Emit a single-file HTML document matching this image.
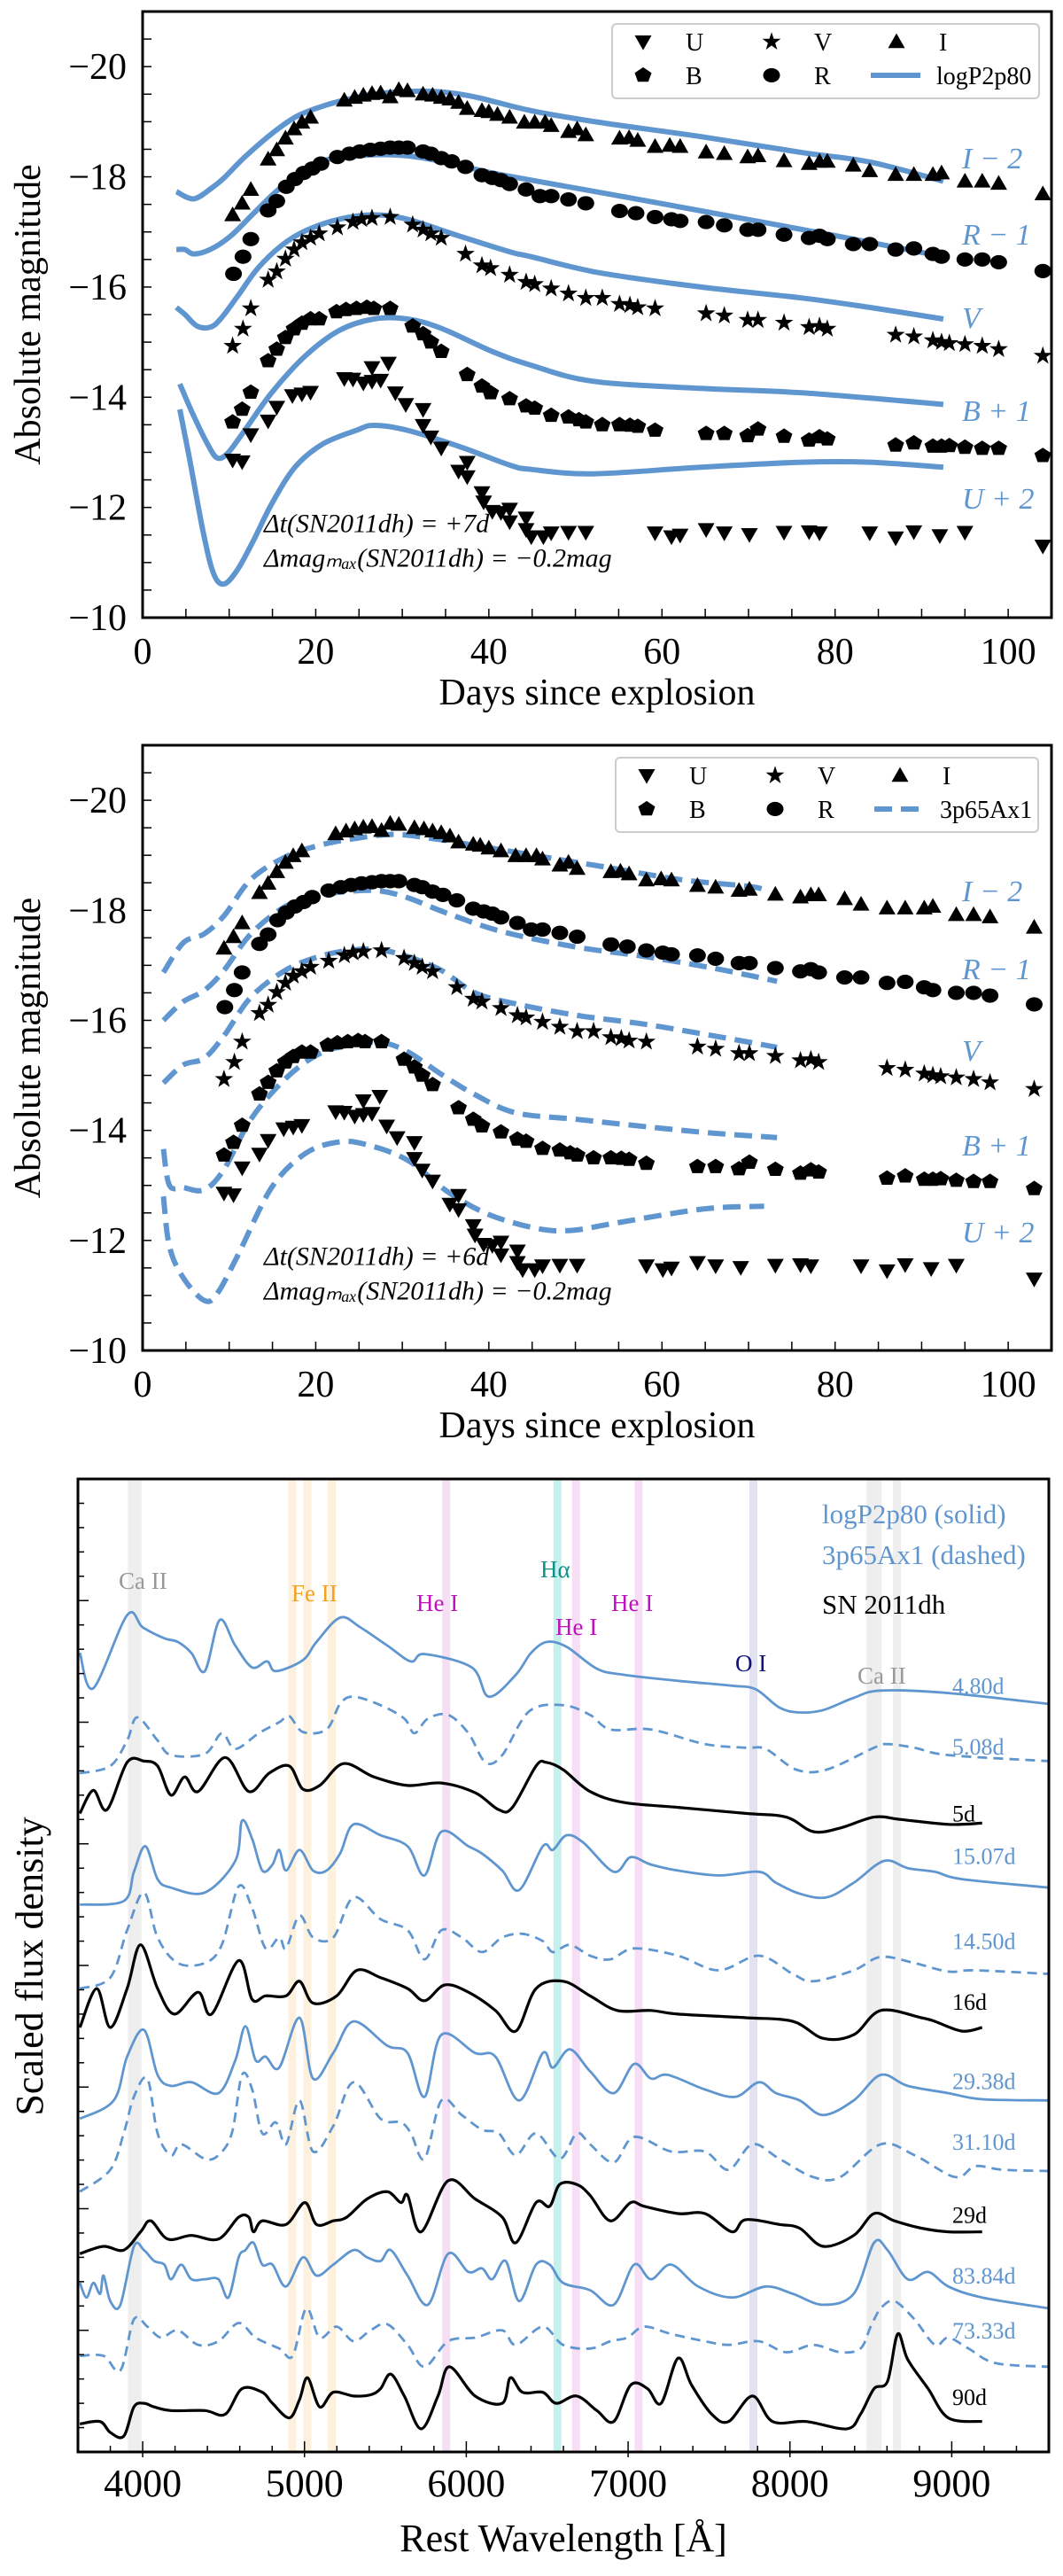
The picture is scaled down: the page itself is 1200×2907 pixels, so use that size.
<!DOCTYPE html>
<html><head><meta charset="utf-8"><style>
html,body{margin:0;padding:0;background:#fff;}
svg{display:block;font-family:"Liberation Serif",serif;}
</style></head><body>
<svg id="fig" width="1200" height="2907" viewBox="0 0 1200 2907" xmlns="http://www.w3.org/2000/svg"></svg>
<script>
// ---------- Light curve data (days since explosion, panel 1 reference; panel 2 shifted -1 d) ----------
const obsI = [[10.4,-17.31],[11.5,-17.52],[12.5,-17.77],[14.5,-18.32],[15.5,-18.49],[16.5,-18.7],[17.5,-18.87],[18.4,-18.99],[19.4,-19.08],[23.3,-19.39],[24.5,-19.44],[25.5,-19.48],[26.5,-19.51],[27.5,-19.52],[28.6,-19.45],[29.6,-19.58],[30.6,-19.56],[32.4,-19.5],[33.5,-19.48],[34.5,-19.44],[35.5,-19.41],[36.5,-19.35],[37.5,-19.24],[39.2,-19.2],[40,-19.18],[41,-19.13],[42.4,-19.08],[44.1,-18.99],[45.3,-18.99],[46.5,-18.99],[47.2,-18.93],[49.2,-18.82],[50.2,-18.87],[51.2,-18.76],[55.1,-18.7],[56.2,-18.71],[57.2,-18.66],[59.2,-18.55],[60.9,-18.57],[62.1,-18.55],[65.1,-18.45],[67.2,-18.42],[69.9,-18.36],[71.1,-18.38],[74.1,-18.29],[77,-18.24],[78.2,-18.28],[79.1,-18.28],[82.1,-18.21],[84,-18.11],[87,-18.04],[89.1,-18.04],[91.3,-18.04],[92.3,-18.07],[95,-17.92],[97,-17.92],[98.9,-17.88],[104,-17.69]];
const obsR = [[10.5,-16.24],[11.6,-16.55],[12.5,-16.87],[14.5,-17.39],[15.5,-17.56],[16.6,-17.82],[17.6,-17.96],[18.6,-18.07],[19.6,-18.15],[20.6,-18.24],[22.5,-18.36],[23.9,-18.42],[25.1,-18.46],[26.3,-18.49],[27.5,-18.51],[28.6,-18.53],[29.6,-18.53],[30.6,-18.53],[32.4,-18.46],[33.3,-18.42],[34.5,-18.34],[35.7,-18.28],[37.3,-18.18],[39.2,-18.03],[40.4,-17.98],[41.4,-17.94],[42.4,-17.87],[44.3,-17.77],[45.9,-17.65],[47.2,-17.65],[49.2,-17.59],[51.2,-17.52],[55.1,-17.38],[57,-17.34],[59.2,-17.27],[61.1,-17.23],[62.1,-17.2],[65.1,-17.18],[67.2,-17.12],[69.9,-17.04],[71.1,-17.04],[74.1,-16.95],[77,-16.89],[78.2,-16.93],[79.1,-16.87],[82.1,-16.78],[84,-16.78],[87,-16.68],[89.1,-16.7],[91.3,-16.6],[92.3,-16.55],[95,-16.5],[97,-16.5],[98.9,-16.45],[104,-16.29]];
const obsV = [[10.4,-14.93],[11.6,-15.24],[12.5,-15.61],[14.5,-16.13],[15.5,-16.28],[16.5,-16.51],[17.5,-16.68],[18.4,-16.81],[19.4,-16.89],[20.4,-16.97],[22.5,-17.08],[24.3,-17.18],[25.3,-17.23],[26.5,-17.25],[28.6,-17.27],[31.2,-17.13],[32.4,-17.04],[33.3,-16.97],[34.5,-16.89],[37.3,-16.6],[39.2,-16.39],[40.2,-16.34],[42.4,-16.22],[44.3,-16.09],[45.3,-16.05],[47.2,-15.97],[49.2,-15.88],[51.2,-15.8],[53.1,-15.8],[55.1,-15.69],[56.3,-15.67],[57.2,-15.63],[59.2,-15.61],[65.1,-15.52],[67.2,-15.48],[69.9,-15.4],[71.1,-15.4],[74.1,-15.35],[77,-15.27],[78.2,-15.29],[79.1,-15.24],[87,-15.13],[89.1,-15.1],[91.3,-15.03],[92.3,-15.0],[93.2,-14.98],[95,-14.96],[97,-14.93],[98.9,-14.87],[104,-14.75]];
const obsB = [[10.4,-13.55],[11.5,-13.78],[12.5,-14.09],[14.5,-14.66],[15.5,-14.87],[16.5,-15.08],[17.5,-15.24],[18.4,-15.34],[19.4,-15.42],[20.4,-15.42],[22.4,-15.55],[23.5,-15.59],[24.7,-15.61],[25.9,-15.63],[26.7,-15.61],[28.6,-15.61],[31.2,-15.29],[32.4,-15.15],[33.3,-15.0],[34.5,-14.83],[37.5,-14.41],[39.2,-14.2],[40.2,-14.08],[42.4,-13.97],[44.3,-13.84],[45.3,-13.8],[47.2,-13.67],[49.2,-13.64],[50.4,-13.59],[51.2,-13.55],[53.1,-13.5],[55.1,-13.5],[56.3,-13.49],[57.2,-13.47],[59.2,-13.4],[65.1,-13.34],[67.2,-13.34],[69.9,-13.3],[71.1,-13.42],[74.1,-13.29],[77,-13.22],[78.2,-13.28],[79.1,-13.24],[87,-13.13],[89.1,-13.17],[91.3,-13.11],[92.3,-13.11],[93.2,-13.12],[95,-13.09],[97,-13.07],[98.9,-13.07],[104,-12.94]];
const obsU = [[10.4,-12.86],[11.5,-12.83],[12.5,-13.32],[14.5,-13.57],[15.5,-13.82],[17.3,-14.03],[18.4,-14.06],[19.4,-14.09],[23.3,-14.34],[24.3,-14.33],[25.5,-14.26],[26.5,-14.29],[26.5,-14.54],[27.5,-14.31],[28.4,-14.62],[29.2,-14.08],[30.4,-13.87],[32.4,-13.78],[32.4,-13.49],[33.3,-13.28],[34.5,-13.08],[36.5,-12.66],[37.5,-12.82],[37.5,-12.56],[39.2,-12.27],[39.4,-12.1],[40.4,-11.93],[41.4,-11.91],[42.4,-11.97],[42.4,-11.74],[44.3,-11.81],[44.3,-11.6],[44.9,-11.47],[46.3,-11.47],[47.2,-11.54],[49.2,-11.55],[51.2,-11.55],[59.2,-11.54],[61.1,-11.47],[62.1,-11.5],[65.1,-11.6],[67.2,-11.54],[70.1,-11.51],[74.1,-11.55],[77,-11.56],[78.2,-11.54],[84,-11.54],[87,-11.45],[89.1,-11.56],[92.1,-11.49],[95,-11.55],[104,-11.3]];

// ---------- Model light curves ----------
const modelA_I = [[3.9,-17.73],[5.9,-17.6],[8,-17.8],[9.4,-17.98],[11.8,-18.36],[14.9,-18.78],[17.6,-19.08],[20,-19.24],[22.7,-19.37],[26.7,-19.5],[30.6,-19.55],[34.5,-19.54],[38.4,-19.45],[44.9,-19.2],[52.7,-18.99],[64.5,-18.73],[76.2,-18.44],[84,-18.27],[92.5,-17.92]];
const modelA_R = [[3.9,-16.68],[4.9,-16.68],[5.9,-16.6],[7.8,-16.68],[10.2,-16.93],[12.9,-17.35],[15.7,-17.77],[18.8,-18.11],[21.6,-18.32],[26.7,-18.4],[30.6,-18.38],[34.5,-18.28],[40.4,-18.07],[44.9,-17.94],[56.6,-17.61],[68.4,-17.27],[80.1,-16.93],[92.5,-16.55]];
const modelA_V = [[3.9,-15.63],[4.9,-15.5],[6.3,-15.29],[7.8,-15.27],[9,-15.42],[11,-15.84],[13.3,-16.34],[16.1,-16.76],[18.8,-17.02],[22.7,-17.23],[26.7,-17.31],[30.6,-17.23],[36.5,-16.93],[42.4,-16.64],[44.9,-16.55],[52.7,-16.26],[64.5,-16.0],[76.2,-15.8],[84,-15.63],[92.5,-15.42]];
const modelA_B = [[4.3,-14.24],[5.9,-13.66],[7.5,-13.15],[8.6,-12.9],[9.8,-12.98],[11.8,-13.4],[14.9,-14.08],[18.8,-14.75],[22.7,-15.21],[26.7,-15.42],[30.6,-15.42],[34.5,-15.25],[40.4,-14.83],[44.9,-14.58],[52,-14.29],[64.5,-14.16],[76.2,-14.08],[92.5,-13.87]];
const modelA_U = [[4.3,-13.78],[5.5,-12.82],[7,-11.55],[8.2,-10.8],[9.4,-10.61],[11,-10.88],[12.9,-11.43],[14.9,-12.06],[17.6,-12.73],[20.8,-13.15],[24.7,-13.4],[26.7,-13.49],[30.6,-13.4],[36.5,-13.11],[42.4,-12.77],[44.9,-12.69],[52,-12.61],[64.5,-12.73],[76.2,-12.82],[84,-12.82],[92.5,-12.73]];
const modelB_I = [[2.4,-16.87],[4.7,-17.41],[7.1,-17.57],[9.4,-17.9],[12.5,-18.56],[16.5,-18.97],[20.4,-19.18],[24.3,-19.3],[29,-19.38],[33.7,-19.3],[38.4,-19.18],[46.3,-18.97],[54.1,-18.77],[62,-18.56],[69.8,-18.44],[71.8,-18.38]];
const modelB_R = [[2.4,-16.0],[4.7,-16.34],[7.1,-16.54],[9.4,-16.91],[12.5,-17.57],[16.5,-18.07],[20.4,-18.27],[24.3,-18.35],[27.5,-18.35],[30.6,-18.23],[35.3,-17.94],[41.6,-17.61],[50.2,-17.33],[58,-17.16],[65.9,-16.95],[73.3,-16.71]];
const modelB_V = [[2.4,-14.86],[4.7,-15.19],[7.1,-15.31],[9.4,-15.72],[12.5,-16.42],[16.5,-16.91],[20.4,-17.16],[24.3,-17.28],[27.5,-17.28],[30.6,-17.16],[34.5,-16.91],[38.4,-16.5],[43.1,-16.3],[50.2,-16.09],[58,-15.93],[65.9,-15.72],[73.3,-15.51]];
const modelB_B = [[2.4,-13.66],[3.1,-13.0],[4.7,-12.96],[7.1,-12.92],[9.4,-13.29],[12.5,-14.2],[16.5,-14.94],[20.4,-15.39],[24.3,-15.56],[27.5,-15.6],[30.6,-15.43],[34.5,-15.02],[38.4,-14.65],[43.1,-14.32],[50.2,-14.2],[58,-14.07],[65.9,-13.95],[73.3,-13.87]];
const modelB_U = [[2.4,-12.8],[3.1,-11.89],[4.7,-11.32],[7.1,-10.91],[8.6,-11.03],[11,-11.73],[14.9,-12.96],[18.8,-13.58],[22.7,-13.79],[25.9,-13.74],[30.6,-13.46],[35.3,-12.88],[40,-12.47],[45.5,-12.22],[49.4,-12.18],[54.1,-12.3],[60.4,-12.47],[65.9,-12.59],[71.8,-12.62]];
const dayTicks = [0,20,40,60,80,100];
const magTicks = [-20,-18,-16,-14,-12,-10];

// ---------- Spectra [wavelength, scaled flux] ----------
const spec_4_80d = [[3612,6.57],[3695,6.28],[3904,6.88],[4000,6.78],[4134,6.69],[4217,6.66],[4301,6.57],[4384,6.42],[4476,6.84],[4572,6.63],[4677,6.45],[4769,6.5],[4823,6.42],[4990,6.51],[5074,6.66],[5220,6.86],[5345,6.78],[5512,6.63],[5658,6.5],[5742,6.56],[6034,6.45],[6139,6.21],[6306,6.39],[6400,6.57],[6498,6.66],[6619,6.62],[6807,6.44],[6974,6.39],[7308,6.34],[7642,6.3],[7789,6.27],[7935,6.12],[8060,6.08],[8206,6.1],[8394,6.2],[8561,6.26],[8979,6.24],[9601,6.15]];
const spec_5_08d = [[3612,5.58],[3800,5.64],[3904,5.85],[3967,6.04],[4092,5.85],[4175,5.73],[4384,5.74],[4489,5.91],[4572,5.78],[4718,5.91],[4844,6.0],[4906,6.05],[4990,5.92],[5136,5.94],[5220,6.15],[5303,6.21],[5470,6.14],[5617,6.03],[5679,5.91],[5763,6.03],[5888,6.06],[6013,5.91],[6118,5.67],[6222,5.73],[6389,6.09],[6598,6.14],[6765,6.06],[6890,5.94],[7141,5.94],[7475,5.82],[7726,5.79],[7851,5.78],[8039,5.61],[8227,5.61],[8520,5.79],[8603,5.82],[8770,5.79],[8979,5.73],[9601,5.68]];
const spec_5d = [[3612,5.25],[3695,5.44],[3779,5.28],[3904,5.67],[4008,5.68],[4092,5.64],[4175,5.4],[4259,5.55],[4343,5.43],[4510,5.71],[4656,5.43],[4781,5.58],[4906,5.64],[4990,5.45],[5094,5.48],[5241,5.66],[5429,5.55],[5637,5.48],[5846,5.5],[6055,5.42],[6201,5.28],[6285,5.3],[6431,5.64],[6494,5.67],[6598,5.61],[6765,5.43],[6974,5.34],[7308,5.3],[7726,5.25],[7977,5.22],[8144,5.1],[8311,5.13],[8520,5.22],[8687,5.2],[8979,5.16],[9188,5.17]];
const spec_15_07d = [[3612,4.5],[3883,4.53],[3946,4.77],[4017,4.98],[4092,4.71],[4175,4.64],[4384,4.6],[4572,4.86],[4614,5.19],[4677,5.04],[4739,4.78],[4802,4.83],[4844,4.95],[4886,4.78],[4969,4.95],[5053,4.78],[5136,4.78],[5220,4.92],[5303,5.16],[5470,5.07],[5637,4.98],[5742,4.74],[5846,5.1],[6013,4.98],[6097,4.92],[6222,4.78],[6327,4.62],[6473,4.98],[6535,4.95],[6619,5.07],[6723,5.01],[6911,4.77],[7016,4.89],[7141,4.83],[7308,4.78],[7559,4.74],[7809,4.77],[7914,4.68],[8060,4.59],[8227,4.56],[8394,4.68],[8582,4.86],[8728,4.8],[8896,4.77],[9063,4.71],[9601,4.64]];
const spec_14_50d = [[3612,3.81],[3800,3.9],[3904,4.29],[4008,4.6],[4092,4.23],[4217,4.02],[4384,4.02],[4489,4.17],[4593,4.65],[4677,4.47],[4760,4.14],[4844,4.23],[4886,4.14],[4969,4.41],[5053,4.23],[5178,4.23],[5303,4.56],[5470,4.38],[5637,4.29],[5742,4.05],[5846,4.29],[5972,4.23],[6097,4.11],[6222,4.23],[6347,4.26],[6473,4.2],[6535,4.11],[6640,4.17],[6765,4.08],[6890,4.05],[7037,4.14],[7308,4.08],[7559,3.96],[7809,4.08],[8018,3.93],[8144,3.87],[8394,3.96],[8561,4.07],[8770,4.02],[8979,3.95],[9146,3.96],[9601,3.93]];
const spec_16d = [[3612,3.49],[3716,3.81],[3800,3.49],[3904,3.81],[3987,4.17],[4092,3.81],[4196,3.6],[4343,3.78],[4426,3.6],[4593,4.04],[4677,3.72],[4760,3.75],[4886,3.75],[4969,3.87],[5053,3.69],[5199,3.75],[5324,3.96],[5470,3.9],[5637,3.81],[5742,3.71],[5867,3.84],[6013,3.78],[6180,3.63],[6306,3.46],[6431,3.81],[6598,3.87],[6765,3.75],[6932,3.63],[7141,3.63],[7308,3.6],[7726,3.57],[8018,3.54],[8206,3.4],[8394,3.43],[8561,3.63],[8812,3.57],[8896,3.54],[9063,3.46],[9188,3.49]];
const spec_29_38d = [[3612,2.74],[3821,2.89],[3904,3.25],[4008,3.47],[4092,3.1],[4175,3.01],[4301,3.04],[4468,2.95],[4572,3.22],[4635,3.5],[4698,3.22],[4760,3.25],[4844,3.16],[4969,3.57],[5053,3.07],[5178,3.28],[5303,3.54],[5512,3.34],[5637,3.28],[5742,2.92],[5846,3.43],[6055,3.28],[6180,3.25],[6327,2.89],[6473,3.28],[6535,3.16],[6640,3.31],[6765,3.13],[6911,2.95],[7037,3.19],[7141,3.07],[7246,3.1],[7475,2.98],[7663,2.92],[7809,3.04],[7914,2.95],[8060,2.89],[8206,2.77],[8394,2.89],[8561,3.1],[8728,3.01],[8979,2.95],[9188,2.9],[9601,2.89]];
const spec_31_10d = [[3612,2.14],[3800,2.32],[3883,2.62],[3946,2.92],[4029,3.07],[4092,2.62],[4175,2.44],[4238,2.53],[4384,2.41],[4468,2.44],[4551,2.62],[4614,3.1],[4677,2.98],[4739,2.62],[4823,2.71],[4886,2.53],[4969,2.89],[5053,2.47],[5178,2.68],[5303,3.04],[5470,2.74],[5596,2.71],[5658,2.62],[5742,2.41],[5846,2.89],[5972,2.77],[6097,2.65],[6201,2.62],[6306,2.44],[6431,2.62],[6577,2.41],[6682,2.62],[6765,2.53],[6911,2.38],[7037,2.59],[7266,2.47],[7475,2.47],[7621,2.32],[7768,2.53],[7935,2.41],[8144,2.26],[8311,2.26],[8561,2.53],[8770,2.44],[9021,2.26],[9146,2.35],[9313,2.32],[9601,2.31]];
const spec_29d = [[3612,1.63],[3758,1.69],[3883,1.66],[3987,1.81],[4050,1.9],[4155,1.75],[4301,1.78],[4468,1.75],[4593,1.93],[4656,1.93],[4685,1.81],[4739,1.9],[4886,1.87],[5002,2.05],[5074,1.87],[5178,1.9],[5261,1.93],[5387,2.08],[5512,2.14],[5596,2.05],[5637,2.11],[5721,1.81],[5888,2.23],[6055,2.08],[6222,1.93],[6306,1.72],[6431,2.05],[6515,2.02],[6577,2.2],[6682,2.2],[6765,2.11],[6890,1.9],[7016,2.05],[7099,2.02],[7308,1.96],[7475,1.96],[7642,1.81],[7726,1.91],[7935,1.87],[8060,1.84],[8206,1.69],[8394,1.78],[8520,1.96],[8645,1.9],[8812,1.84],[8979,1.81],[9188,1.81]];
const spec_83_84d = [[3612,1.39],[3653,1.27],[3695,1.39],[3737,1.3],[3758,1.45],[3800,1.24],[3862,1.21],[3946,1.69],[4008,1.66],[4071,1.57],[4134,1.54],[4175,1.42],[4238,1.54],[4301,1.42],[4384,1.42],[4468,1.42],[4530,1.27],[4593,1.6],[4635,1.66],[4685,1.72],[4739,1.54],[4802,1.54],[4886,1.36],[4990,1.6],[5074,1.45],[5178,1.54],[5303,1.66],[5387,1.6],[5470,1.57],[5533,1.66],[5637,1.45],[5763,1.21],[5888,1.63],[6013,1.48],[6097,1.51],[6160,1.42],[6243,1.57],[6327,1.24],[6431,1.54],[6515,1.54],[6598,1.39],[6765,1.33],[6911,1.21],[7037,1.54],[7141,1.42],[7266,1.54],[7433,1.36],[7642,1.27],[7851,1.36],[8018,1.3],[8206,1.21],[8394,1.3],[8520,1.72],[8603,1.66],[8728,1.42],[8854,1.48],[8979,1.36],[9188,1.27],[9601,1.18]];
const spec_73_33d = [[3612,0.79],[3758,0.79],[3862,0.67],[3946,1.09],[4029,1.03],[4113,0.94],[4217,1.0],[4343,0.88],[4468,0.91],[4593,1.06],[4698,0.94],[4844,0.85],[4927,0.79],[5011,1.18],[5094,0.94],[5199,1.03],[5303,0.91],[5408,1.0],[5512,1.05],[5637,0.88],[5742,0.7],[5888,0.91],[6055,0.94],[6222,1.0],[6306,0.88],[6473,1.03],[6598,0.88],[6765,0.85],[6890,0.91],[6995,0.94],[7099,1.03],[7266,0.97],[7475,0.91],[7621,0.88],[7809,0.91],[7977,0.82],[8144,0.88],[8311,0.82],[8436,0.85],[8499,1.03],[8561,1.18],[8645,1.24],[8770,1.09],[8896,0.88],[8979,0.94],[9104,0.85],[9271,0.73],[9601,0.7]];
const spec_90d = [[3612,0.23],[3737,0.25],[3800,0.16],[3883,0.13],[3946,0.37],[4008,0.4],[4071,0.37],[4175,0.34],[4384,0.34],[4510,0.31],[4614,0.52],[4739,0.49],[4802,0.4],[4906,0.28],[4969,0.43],[5019,0.61],[5094,0.37],[5178,0.49],[5303,0.46],[5408,0.47],[5470,0.52],[5533,0.64],[5617,0.46],[5721,0.19],[5825,0.46],[5896,0.7],[6055,0.46],[6222,0.4],[6272,0.61],[6347,0.49],[6473,0.49],[6556,0.4],[6682,0.46],[6807,0.34],[6911,0.25],[7016,0.55],[7120,0.52],[7204,0.4],[7308,0.77],[7392,0.55],[7517,0.31],[7621,0.25],[7768,0.46],[7893,0.25],[8102,0.25],[8352,0.19],[8436,0.31],[8520,0.52],[8603,0.58],[8666,0.97],[8728,0.76],[8854,0.52],[8979,0.28],[9188,0.25]];
const specLabels = ["4.80d","5.08d","5d","15.07d","14.50d","16d","29.38d","31.10d","29d","83.84d","73.33d","90d"];
const specLabelFlux = [6.3,5.8,5.25,4.9,4.2,3.7,3.05,2.55,1.95,1.45,1.0,0.45];
const wlTicks = [4000,5000,6000,7000,8000,9000];
const lineBands = [3934,3968,4924,5018,5169,5876,6563,6678,7065,7774,8498,8542,8662];
const bandColors = ["#eeeeee","#eeeeee","#fdf1dd","#fdf1dd","#fdf1dd","#f6def4","#c6f0ec","#f6def4","#f6def4","#e2e2f0","#eeeeee","#eeeeee","#eeeeee"];

const NS="http://www.w3.org/2000/svg";
const svg=document.getElementById('fig');
const BLUE="#6096cf";
function mk(tag,attrs,parent){const e=document.createElementNS(NS,tag);for(const k in attrs)e.setAttribute(k,attrs[k]);(parent||svg).appendChild(e);return e;}
function txt(s,attrs,parent){const e=mk('text',attrs,parent);e.textContent=s;return e;}
// smooth path (Catmull-Rom -> cubic Bezier) through pixel points
function smoothPath(pts){
  let d='M'+pts[0][0].toFixed(1)+','+pts[0][1].toFixed(1);
  for(let i=0;i<pts.length-1;i++){
    const p0=pts[Math.max(0,i-1)],p1=pts[i],p2=pts[i+1],p3=pts[Math.min(pts.length-1,i+2)];
    const c1x=p1[0]+(p2[0]-p0[0])/6,c1y=p1[1]+(p2[1]-p0[1])/6;
    const c2x=p2[0]-(p3[0]-p1[0])/6,c2y=p2[1]-(p3[1]-p1[1])/6;
    d+='C'+c1x.toFixed(1)+','+c1y.toFixed(1)+' '+c2x.toFixed(1)+','+c2y.toFixed(1)+' '+p2[0].toFixed(1)+','+p2[1].toFixed(1);
  }
  return d;
}

// ---------- Light-curve panels ----------
function lcPanel(top,bottom,shift,modelSet,dashed,legendName,legendBox,annot,labelYs){
  const L=161,R=1187,X=d=>L+d*(R-L)/105,Y=m=>top+(m+21)*(bottom-top)/11;
  const g=mk('g',{});
  
  
  for(let m=-21;m<=-10;m+=0.5){const t=mk('line',{x1:L,x2:L+10,y1:Y(m),y2:Y(m),stroke:'#000','stroke-width':1.5},g);
    }
  for(let d=5;d<=105;d+=5){const t=mk('line',{x1:X(d),x2:X(d),y1:bottom,y2:bottom-10,stroke:'#000','stroke-width':1.5},g);
    }
  magTicks.forEach(m=>{const t=txt('\u2212'+(-m),{x:143,y:Y(m)+14,'text-anchor':'end','font-size':42},g);
    });
  dayTicks.forEach(d=>{const t=txt(String(d),{x:X(d),y:bottom+52,'text-anchor':'middle','font-size':42},g);
    });
  let t=txt('Days since explosion',{x:674,y:bottom+98,'text-anchor':'middle','font-size':42},g);
  
  const cy=(top+bottom)/2;
  t=txt('Absolute magnitude',{x:45,y:cy,'text-anchor':'middle','font-size':42,transform:`rotate(-90 45 ${cy})`},g);
  
  const names=['I','R','V','B','U'];
  modelSet.forEach((arr,i)=>{
    const p=mk('path',{d:smoothPath(arr.map(q=>[X(q[0]),Y(q[1])])),fill:'none',stroke:BLUE,'stroke-width':6,'stroke-linejoin':'round'},g);
    if(dashed)p.setAttribute('stroke-dasharray','20 10');
    
  });
  const sets=[[obsI,'^'],[obsR,'o'],[obsV,'*'],[obsB,'p'],[obsU,'v']];
  sets.forEach(([arr,sym],i)=>{arr.forEach(q=>{const d=q[0]-shift;if(d>105.5)return;
    const mkr=marker(sym,X(d),Y(q[1]),g);
    });});
  const fr=mk('rect',{x:L,y:top,width:R-L,height:bottom-top,fill:'none',stroke:'#000','stroke-width':3},g);
  
  const labs=['I \u2212 2','R \u2212 1','V','B + 1','U + 2'];
  labs.forEach((s,i)=>{const e=txt(s,{x:1086,y:labelYs[i]+12,'font-size':34,'font-style':'italic',fill:BLUE},g);
    });
  t=txt(annot[0],{x:298,y:Y(-11.7)+9,'font-size':30,'font-style':'italic'},g);
  
  t=txt(annot[1],{x:298,y:Y(-11.07)+9,'font-size':30,'font-style':'italic'},g);
  
  const [bx,by,bw,bh]=legendBox;
  const lg=mk('g',{},g);
  
  mk('rect',{x:bx,y:by,width:bw,height:bh,rx:5,fill:'#fff',stroke:'#ccc','stroke-width':2},lg);
  const r1=by+bh*0.24,r2=by+bh*0.69;
  const ents=[['v','U',bx+35,r1],['*','V',bx+180,r1],['^','I',bx+321,r1],['p','B',bx+35,r2],['o','R',bx+180,r2]];
  ents.forEach(([s,l,x,y])=>{const e=mk('g',{},lg);
    marker(s,x,y,e);txt(l,{x:x+48,y:y+10,'font-size':28},e);});
  const le=mk('g',{},lg);
  const ln=mk('line',{x1:bx+292,x2:bx+348,y1:r2,y2:r2,stroke:BLUE,'stroke-width':6},le);
  if(dashed)ln.setAttribute('stroke-dasharray','20 10');
  txt(legendName,{x:bx+366,y:r2+10,'font-size':28},le);
}
function marker(sym,x,y,parent){
  const s=9.5;let e;
  if(sym==='o')e=mk('ellipse',{cx:x,cy:y,rx:s,ry:s*0.85,fill:'#000'},parent);
  else if(sym==='^')e=mk('polygon',{points:`${x},${y-s} ${x+s},${y+s*0.75} ${x-s},${y+s*0.75}`,fill:'#000'},parent);
  else if(sym==='v')e=mk('polygon',{points:`${x},${y+s} ${x+s},${y-s*0.75} ${x-s},${y-s*0.75}`,fill:'#000'},parent);
  else if(sym==='p'){let p=[];for(let k=0;k<5;k++){const a=-Math.PI/2+k*2*Math.PI/5;p.push((x+s*1.05*Math.cos(a)).toFixed(1)+','+(y+s*0.95*Math.sin(a)).toFixed(1));}
    e=mk('polygon',{points:p.join(' '),fill:'#000'},parent);}
  else {let p=[];for(let k=0;k<10;k++){const a=-Math.PI/2+k*Math.PI/5,r=k%2?s*0.45:s*1.15;p.push((x+r*Math.cos(a)).toFixed(1)+','+(y+r*Math.sin(a)).toFixed(1));}
    e=mk('polygon',{points:p.join(' '),fill:'#000'},parent);}
  return e;
}
lcPanel(13,697,0,[modelA_I,modelA_R,modelA_V,modelA_B,modelA_U],false,'logP2p80',[691,27,482,84],
  ['\u0394t(SN2011dh) = +7d','\u0394mag\u2098\u2090\u2093(SN2011dh) = \u22120.2mag'],[178,264,358,463,562]);
lcPanel(841,1524,1,[modelB_I,modelB_R,modelB_V,modelB_B,modelB_U],true,'3p65Ax1',[695,855,477,84],
  ['\u0394t(SN2011dh) = +6d','\u0394mag\u2098\u2090\u2093(SN2011dh) = \u22120.2mag'],[1005,1093,1185,1292,1390]);

// ---------- Spectra panel ----------
(function(){
  const L=88,R=1184,T=1669,B=2767;
  const X=w=>L+(w-3600)*(R-L)/6000, Y=f=>B-f*(B-T)/8;
  const g=mk('g',{});
  
  lineBands.forEach((w,i)=>{const b=mk('rect',{x:X(w)-4.5,y:T,width:9,height:B-T,fill:bandColors[i]},g);
    });
  const specs=[spec_4_80d,spec_5_08d,spec_5d,spec_15_07d,spec_14_50d,spec_16d,spec_29_38d,spec_31_10d,spec_29d,spec_83_84d,spec_73_33d,spec_90d];
  specs.forEach((arr,i)=>{const kind=i%3;
    const p=mk('path',{d:smoothPath(arr.map(q=>[X(q[0]),Y(q[1])])),fill:'none',
      stroke:kind===2?'#000':BLUE,'stroke-width':kind===2?3.2:2.8,'stroke-linejoin':'round'},g);
    if(kind===1)p.setAttribute('stroke-dasharray','11 7');
    
    const t=txt(specLabels[i],{x:1075,y:Y(specLabelFlux[i])+9,'font-size':26,fill:kind===2?'#000':BLUE},g);
    
  });
  for(let k=0;k<=40;k++){const f=k*0.2,len=(k%5===0)?12:7;
    const t=mk('line',{x1:L,x2:L+len,y1:Y(f),y2:Y(f),stroke:'#000','stroke-width':1.5},g);
    }
  for(let w=3600;w<=9600;w+=200){const maj=w%1000===0;
    const t=mk('line',{x1:X(w),x2:X(w),y1:B+(maj?6:0),y2:B-(maj?12:7),stroke:'#000','stroke-width':1.5},g);
    }
  wlTicks.forEach(w=>{const t=txt(String(w),{x:X(w),y:B+50,'text-anchor':'middle','font-size':44},g);
    });
  let t=txt('Rest Wavelength [\u00c5]',{x:636,y:2879,'text-anchor':'middle','font-size':44},g);
  
  t=txt('Scaled flux density',{x:48,y:2219,'text-anchor':'middle','font-size':44,transform:'rotate(-90 48 2219)'},g);
  
  const fr=mk('rect',{x:L,y:T,width:R-L,height:B-T,fill:'none',stroke:'#000','stroke-width':3},g);
  
  const labs=[['Ca II',134,1793,'#999'],['Fe II',329,1807,'#f5a020'],['He I',470,1818,'#c010c0'],['H\u03b1',610,1780,'#10908a'],
    ['He I',627,1845,'#c010c0'],['He I',690,1818,'#c010c0'],['O I',830,1886,'#10107f'],['Ca II',968,1900,'#999']];
  labs.forEach(([s,x,y,c])=>{const e=txt(s,{x:x,y:y,'font-size':27,fill:c},g);
    });
  t=txt('logP2p80 (solid)',{x:928,y:1719,'font-size':31,fill:BLUE},g);
  
  t=txt('3p65Ax1 (dashed)',{x:928,y:1765,'font-size':31,fill:BLUE},g);
  
  t=txt('SN 2011dh',{x:928,y:1821,'font-size':31,fill:'#000'},g);
  
})();
</script>
</body></html>
